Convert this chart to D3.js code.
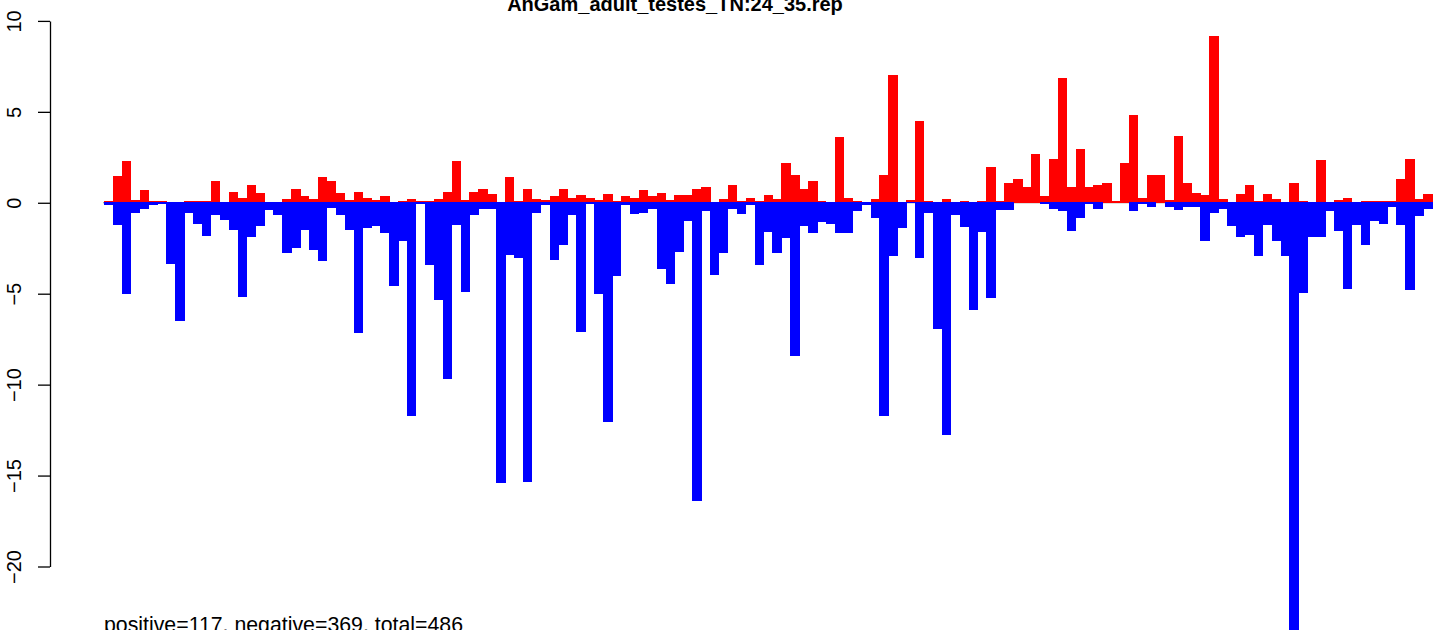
<!DOCTYPE html>
<html lang="en">
<head>
<meta charset="UTF-8">
<script src="https://cdn.jsdelivr.net/npm/d3@7"></script>
<title>AnGam_adult_testes_TN:24_35.rep</title>
<style>
    body { margin: 0; background: white; }
    svg { display: block; font-family: "Liberation Sans", Arial, Helvetica, sans-serif; }
    rect { shape-rendering: crispEdges; }
</style>
</head>
<body>
<div id="chart"></div>
<script>
    const titleText = "AnGam_adult_testes_TN:24_35.rep";
    const noteText = "positive=117, negative=369, total=486";
    const yTicks = [10, 5, 0, -5, -10, -15, -20];

    // red bars (positive scores), one per position
    const positive = [
        0.07, 1.46, 2.32, 0.13, 0.68, 0.07, 0.07, 0, 0, 0.07,
        0.07, 0.07, 1.17, 0, 0.57, 0.24, 1.0, 0.51, 0, 0,
        0.18, 0.73, 0.35, 0.18, 1.39, 1.17, 0.51, 0.13, 0.57, 0.24,
        0.13, 0.35, 0, 0.07, 0.18, 0.07, 0.07, 0.18, 0.57, 2.32,
        0.13, 0.57, 0.78, 0.46, 0, 1.44, 0.07, 0.73, 0.18, 0.13,
        0.35, 0.78, 0.24, 0.4, 0.24, 0.13, 0.46, 0.07, 0.35, 0.24,
        0.68, 0.35, 0.51, 0.13, 0.4, 0.4, 0.78, 0.84, 0, 0.18,
        0.95, 0.07, 0.24, 0.07, 0.4, 0.18, 2.2, 1.5, 0.78, 1.17,
        0.07, 0, 3.6, 0.24, 0.07, 0, 0.18, 1.5, 7.05, 0,
        0.13, 4.47, 0.07, 0, 0.18, 0, 0.07, 0, 0.07, 1.99,
        0.07, 1.11, 1.33, 0.84, 2.7, 0.35, 2.43, 6.85, 0.84, 2.97,
        0.84, 0.95, 1.06, 0.07, 2.2, 4.8, 0.24, 1.5, 1.5, 0.13,
        3.66, 1.06, 0.51, 0.4, 9.15, 0.18, 0, 0.46, 0.95, 0.07,
        0.46, 0.18, 0, 1.11, 0.07, 0, 2.37, 0, 0.13, 0.24,
        0, 0.07, 0.07, 0.07, 0.07, 1.28, 2.43, 0.18, 0.46, 0
    ];

    // blue bars (negative scores), same positions
    const negative = [
        -0.15, -1.24, -5.02, -0.58, -0.36, -0.15, -0.07, -3.38, -6.5, -0.58,
        -1.19, -1.84, -0.69, -0.97, -1.51, -5.18, -1.9, -1.3, -0.42, -0.69,
        -2.77, -2.5, -1.51, -2.61, -3.21, -0.31, -0.69, -1.51, -7.15, -1.4,
        -1.3, -1.68, -4.6, -2.12, -11.75, -0.09, -3.43, -5.35, -9.7, -1.24,
        -4.9, -0.69, -0.36, -0.36, -15.4, -2.88, -3.05, -15.35, -0.58, -0.15,
        -3.16, -2.34, -0.69, -7.1, -0.09, -5.02, -12.03, -4.03, -0.15, -0.64,
        -0.58, -0.36, -3.65, -4.47, -2.72, -1.02, -16.4, -0.47, -3.96, -2.77,
        -0.36, -0.64, -0.15, -3.43, -1.62, -2.77, -1.95, -8.42, -1.3, -1.68,
        -1.08, -1.19, -1.68, -1.68, -0.47, -0.15, -0.86, -11.7, -2.94, -1.4,
        -0.04, -3.05, -0.58, -6.93, -12.75, -0.69, -1.35, -5.9, -1.62, -5.24,
        -0.42, -0.42, 0, 0, 0, -0.07, -0.36, -0.47, -1.57, -0.86,
        -0.09, -0.36, 0, 0, 0, -0.47, -0.07, -0.26, 0, -0.26,
        -0.42, -0.26, -0.26, -2.12, -0.58, -0.36, -1.3, -1.9, -1.79, -2.94,
        -1.24, -2.12, -2.94, -24, -4.96, -1.9, -1.9, -0.47, -1.57, -4.74,
        -1.24, -2.34, -1.02, -1.19, -0.26, -1.24, -4.8, -0.75, -0.36, 0
    ];

    const width = 1433, height = 630;
    const barW = 8.913;
    const x0 = 104;

    const svg = d3.select("#chart").append("svg")
        .attr("width", width)
        .attr("height", height);

    const x = d3.scaleBand()
        .domain(d3.range(positive.length))
        .range([x0, x0 + positive.length * barW])
        .padding(0);

    const y = d3.scaleLinear()
        .domain([10, -20])
        .range([20.9, 566.5]);

    // zero line
    svg.append("line")
        .attr("x1", x0 - 1)
        .attr("x2", width)
        .attr("y1", y(0))
        .attr("y2", y(0))
        .attr("stroke", "#888")
        .attr("stroke-width", 1);

    svg.append("g").selectAll("rect")
        .data(positive)
        .enter()
        .append("rect")
        .attr("x", (d, i) => x(i))
        .attr("width", x.bandwidth() + 0.5)
        .attr("y", d => y(d))
        .attr("height", d => y(0) - y(d))
        .attr("fill", "#ff0000");

    svg.append("g").selectAll("rect")
        .data(negative)
        .enter()
        .append("rect")
        .attr("x", (d, i) => x(i))
        .attr("width", x.bandwidth() + 0.5)
        .attr("y", y(0) - 0.8)
        .attr("height", d => d === 0 ? 0 : y(d) - y(0) + 0.8)
        .attr("fill", "#0000ff");

    const yAxis = svg.append("g")
        .attr("transform", "translate(50,0)")
        .call(d3.axisLeft(y).tickValues(yTicks).tickSize(12).tickSizeOuter(0)
            .tickFormat(d => d < 0 ? "\u2212" + Math.abs(d) : d));

    yAxis.select(".domain").attr("stroke", "black").attr("stroke-width", 1.3);
    yAxis.selectAll(".tick line").attr("stroke", "black").attr("stroke-width", 1.3);
    yAxis.selectAll(".tick text")
        .attr("x", null)
        .attr("dy", null)
        .attr("text-anchor", "middle")
        .attr("transform", "translate(-29,0) rotate(-90)")
        .attr("fill", "black")
        .style("font-size", "20px")
        .style("font-family", "'Liberation Sans', Arial, sans-serif");

    svg.append("text")
        .attr("x", 675)
        .attr("y", 11)
        .attr("text-anchor", "middle")
        .style("font-size", "20px")
        .style("font-weight", "bold")
        .text(titleText);

    svg.append("text")
        .attr("x", 104)
        .attr("y", 632)
        .style("font-size", "21.3px")
        .text(noteText);
</script>
</body>
</html>
